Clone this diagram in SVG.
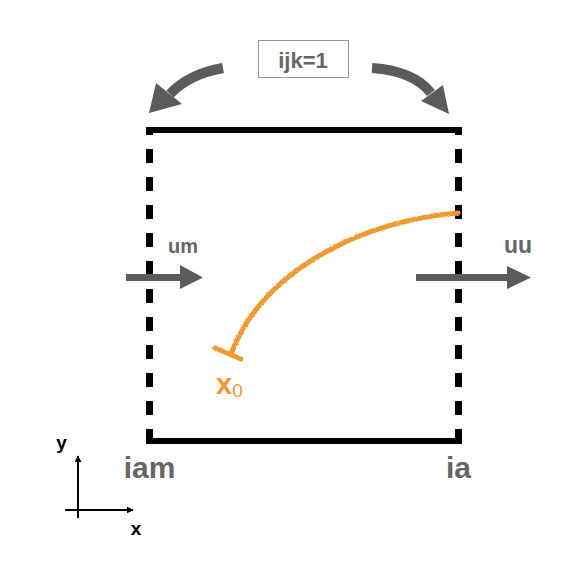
<svg xmlns="http://www.w3.org/2000/svg" width="575" height="575" viewBox="0 0 575 575">
<defs>
<style>
.solid{stroke:#000;stroke-width:6;fill:none}
.dash{stroke:#000;stroke-width:7;fill:none;stroke-dasharray:14 14;stroke-dashoffset:9}
.gline{stroke:#5b5b5b;stroke-width:7;fill:none}
.gcurve{stroke:#5b5b5b;stroke-width:10;fill:none}
.ghead{fill:#5b5b5b}
.lbl{font-family:"Liberation Sans",Arial,sans-serif;font-weight:bold;fill:#666}
.ax{font-family:"Liberation Sans",Arial,sans-serif;font-weight:bold;fill:#000;font-size:19px}
.orange{stroke:#f19a30;stroke-width:5;fill:none;stroke-linecap:round}
</style>
<filter id="rough" x="-5%" y="-5%" width="110%" height="110%">
<feTurbulence type="fractalNoise" baseFrequency="0.9" numOctaves="2" seed="3" result="n"/>
<feDisplacementMap in="SourceGraphic" in2="n" scale="2.5"/>
</filter>
<marker id="axhead" viewBox="0 0 10 10" refX="9" refY="5" markerWidth="7" markerHeight="7" orient="auto" markerUnits="userSpaceOnUse">
<path d="M0,0 L10,5 L0,10 z" fill="#000"/>
</marker>
</defs>
<rect width="575" height="575" fill="#fff"/>
<g id="cell">
<line class="solid" x1="146" y1="130" x2="462" y2="130"/>
<line class="solid" x1="146" y1="441" x2="462" y2="441"/>
<line class="dash" x1="149.5" y1="130" x2="149.5" y2="444"/>
<line class="dash" x1="458.5" y1="130" x2="458.5" y2="444"/>
</g>
<g id="connectors">
<line class="gline" x1="126" y1="277.5" x2="182" y2="277.5"/>
<polygon class="ghead" points="180,265 203,277.5 180,289"/>
<line class="gline" x1="416" y1="277.5" x2="509" y2="277.5"/>
<polygon class="ghead" points="507,266 531,277.5 507,289"/>
<path class="gcurve" d="M223,68 Q189,74 170,94"/>
<polygon class="ghead" points="156,83 182,104 149,113"/>
<path class="gcurve" d="M372,68 Q414,71 431,93"/>
<polygon class="ghead" points="421,101 443,85 449,114"/>
<g filter="url(#rough)">
<path class="orange" d="M458,213 C370,220 265,265 231,354"/>
<line class="orange" x1="215" y1="348" x2="241" y2="359"/>
</g>
<line stroke="#000" stroke-width="2" x1="78" y1="518" x2="78" y2="456" marker-end="url(#axhead)"/>
<line stroke="#000" stroke-width="2" x1="65" y1="510" x2="133" y2="510" marker-end="url(#axhead)"/>
</g>
<g id="ijk">
<rect x="258.5" y="40.5" width="90" height="37" fill="#fff" stroke="#999" stroke-width="1"/>
<text class="lbl" x="303" y="68" font-size="22" text-anchor="middle" fill="#5b5b5b">ijk=1</text>
</g>
<g id="labels">
<text class="lbl" x="183" y="253" font-size="20" text-anchor="middle">um</text>
<text class="lbl" x="518" y="253" font-size="23" text-anchor="middle">uu</text>
<text class="lbl" x="149.5" y="478" font-size="30" text-anchor="middle">iam</text>
<text class="lbl" x="458.5" y="478" font-size="30" text-anchor="middle">ia</text>
<text font-family="'Liberation Sans',Arial,sans-serif" fill="#f19a30" x="216" y="394" font-size="29" font-weight="bold">x<tspan font-size="19" font-weight="normal" dy="3">0</tspan></text>
<text class="ax" x="61.5" y="449" text-anchor="middle">y</text>
<text class="ax" x="136" y="535" text-anchor="middle">x</text>
</g>
</svg>
